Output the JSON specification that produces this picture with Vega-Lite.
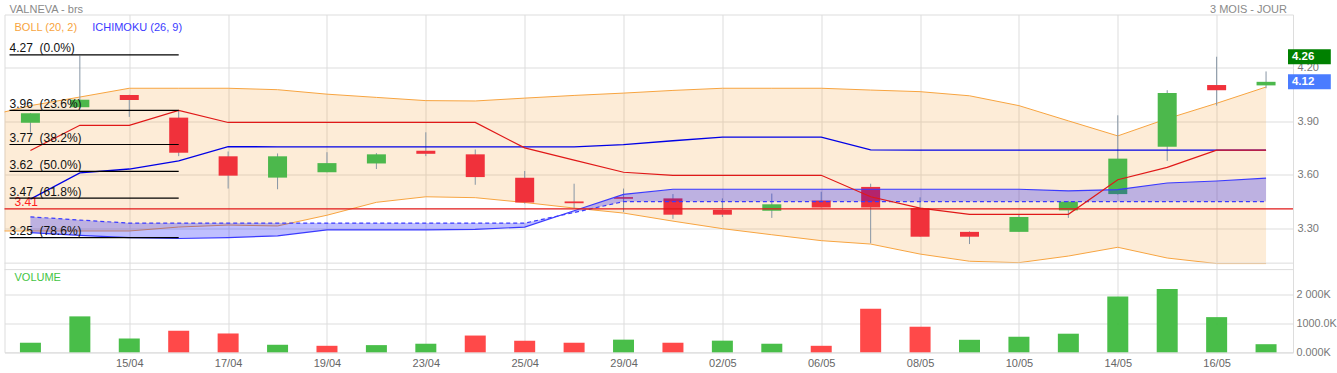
{
  "$schema": "https://vega.github.io/schema/vega-lite/v6.json",
  "width": 1337,
  "height": 373,
  "autosize": {"type": "fit", "contains": "padding"},
  "padding": {"left": 3.5, "top": 2.5, "right": 0, "bottom": 4.7},
  "background": "white",
  "config": {
    "font": "Liberation Sans",
    "view": {"stroke": "#dddddd"},
    "axis": {"gridColor": "#dddddd", "gridWidth": 1, "domain": false, "ticks": false, "tickSize": 0, "labelFont": "Liberation Sans", "labelFontSize": 11}
  },
  "datasets": {
    "bb": [
      {"i": -1, "U": 3.92, "L": 3.287},
      {"i": 0, "U": 3.987, "L": 3.287},
      {"i": 1, "U": 4.035, "L": 3.287},
      {"i": 2, "U": 4.084, "L": 3.287},
      {"i": 3, "U": 4.084, "L": 3.309},
      {"i": 4, "U": 4.084, "L": 3.32},
      {"i": 5, "U": 4.076, "L": 3.315},
      {"i": 6, "U": 4.051, "L": 3.375},
      {"i": 7, "U": 4.033, "L": 3.447},
      {"i": 8, "U": 4.015, "L": 3.478},
      {"i": 9, "U": 4.013, "L": 3.473},
      {"i": 10, "U": 4.029, "L": 3.446},
      {"i": 11, "U": 4.044, "L": 3.415},
      {"i": 12, "U": 4.057, "L": 3.387},
      {"i": 13, "U": 4.072, "L": 3.342},
      {"i": 14, "U": 4.084, "L": 3.30},
      {"i": 15, "U": 4.084, "L": 3.266},
      {"i": 16, "U": 4.084, "L": 3.233},
      {"i": 17, "U": 4.074, "L": 3.214},
      {"i": 18, "U": 4.065, "L": 3.158},
      {"i": 19, "U": 4.042, "L": 3.118},
      {"i": 20, "U": 3.987, "L": 3.11},
      {"i": 21, "U": 3.902, "L": 3.147},
      {"i": 22, "U": 3.818, "L": 3.196},
      {"i": 23, "U": 3.914, "L": 3.136},
      {"i": 24, "U": 4.0, "L": 3.105},
      {"i": 25, "U": 4.091, "L": 3.105}
    ],
    "candles": [
      {"i": 0, "date": "11/04", "O": 3.891, "H": 3.946, "Lo": 3.836, "C": 3.945, "dir": "up", "vol": 333000, "vdir": "up"},
      {"i": 1, "date": "12/04", "O": 3.978, "H": 4.266, "Lo": 3.976, "C": 4.02, "dir": "up", "vol": 1250000, "vdir": "up"},
      {"i": 2, "date": "15/04", "O": 4.046, "H": 4.048, "Lo": 3.924, "C": 4.018, "dir": "down", "vol": 476000, "vdir": "up"},
      {"i": 3, "date": "16/04", "O": 3.92, "H": 3.96, "Lo": 3.705, "C": 3.724, "dir": "down", "vol": 750000, "vdir": "down"},
      {"i": 4, "date": "17/04", "O": 3.704, "H": 3.731, "Lo": 3.524, "C": 3.596, "dir": "down", "vol": 655000, "vdir": "down"},
      {"i": 5, "date": "18/04", "O": 3.585, "H": 3.72, "Lo": 3.52, "C": 3.704, "dir": "up", "vol": 262000, "vdir": "up"},
      {"i": 6, "date": "19/04", "O": 3.615, "H": 3.727, "Lo": 3.615, "C": 3.666, "dir": "up", "vol": 226000, "vdir": "down"},
      {"i": 7, "date": "22/04", "O": 3.664, "H": 3.722, "Lo": 3.633, "C": 3.715, "dir": "up", "vol": 250000, "vdir": "up"},
      {"i": 8, "date": "23/04", "O": 3.735, "H": 3.838, "Lo": 3.705, "C": 3.718, "dir": "down", "vol": 298000, "vdir": "up"},
      {"i": 9, "date": "24/04", "O": 3.715, "H": 3.742, "Lo": 3.545, "C": 3.588, "dir": "down", "vol": 583000, "vdir": "down"},
      {"i": 10, "date": "25/04", "O": 3.584, "H": 3.622, "Lo": 3.44, "C": 3.446, "dir": "down", "vol": 405000, "vdir": "down"},
      {"i": 11, "date": "26/04", "O": 3.452, "H": 3.551, "Lo": 3.415, "C": 3.442, "dir": "down", "vol": 333000, "vdir": "down"},
      {"i": 12, "date": "29/04", "O": 3.476, "H": 3.524, "Lo": 3.393, "C": 3.467, "dir": "down", "vol": 440000, "vdir": "up"},
      {"i": 13, "date": "30/04", "O": 3.469, "H": 3.493, "Lo": 3.355, "C": 3.378, "dir": "down", "vol": 333000, "vdir": "down"},
      {"i": 14, "date": "02/05", "O": 3.405, "H": 3.469, "Lo": 3.365, "C": 3.378, "dir": "down", "vol": 405000, "vdir": "up"},
      {"i": 15, "date": "03/05", "O": 3.40, "H": 3.496, "Lo": 3.36, "C": 3.436, "dir": "up", "vol": 298000, "vdir": "up"},
      {"i": 16, "date": "06/05", "O": 3.457, "H": 3.506, "Lo": 3.418, "C": 3.418, "dir": "down", "vol": 226000, "vdir": "down"},
      {"i": 17, "date": "07/05", "O": 3.533, "H": 3.551, "Lo": 3.218, "C": 3.418, "dir": "down", "vol": 1512000, "vdir": "down"},
      {"i": 18, "date": "08/05", "O": 3.415, "H": 3.475, "Lo": 3.255, "C": 3.255, "dir": "down", "vol": 890000, "vdir": "down"},
      {"i": 19, "date": "09/05", "O": 3.282, "H": 3.285, "Lo": 3.214, "C": 3.255, "dir": "down", "vol": 435000, "vdir": "up"},
      {"i": 20, "date": "10/05", "O": 3.282, "H": 3.378, "Lo": 3.282, "C": 3.365, "dir": "up", "vol": 540000, "vdir": "up"},
      {"i": 21, "date": "13/05", "O": 3.402, "H": 3.455, "Lo": 3.36, "C": 3.451, "dir": "up", "vol": 647000, "vdir": "up"},
      {"i": 22, "date": "14/05", "O": 3.493, "H": 3.933, "Lo": 3.49, "C": 3.691, "dir": "up", "vol": 1940000, "vdir": "up"},
      {"i": 23, "date": "15/05", "O": 3.757, "H": 4.073, "Lo": 3.678, "C": 4.058, "dir": "up", "vol": 2200000, "vdir": "up"},
      {"i": 24, "date": "16/05", "O": 4.102, "H": 4.26, "Lo": 3.987, "C": 4.073, "dir": "down", "vol": 1224000, "vdir": "up"},
      {"i": 25, "date": "17/05", "O": 4.10, "H": 4.178, "Lo": 4.084, "C": 4.12, "dir": "up", "vol": 282000, "vdir": "up"}
    ],
    "ichi": [
      {"i": 0, "T": 3.736, "K": 3.465, "A": 3.366, "B": 3.278},
      {"i": 1, "T": 3.877, "K": 3.611, "A": 3.348, "B": 3.262},
      {"i": 2, "T": 3.877, "K": 3.633, "A": 3.331, "B": 3.25},
      {"i": 3, "T": 3.96, "K": 3.678, "A": 3.331, "B": 3.245},
      {"i": 4, "T": 3.893, "K": 3.758, "A": 3.331, "B": 3.25},
      {"i": 5, "T": 3.893, "K": 3.757, "A": 3.331, "B": 3.26},
      {"i": 6, "T": 3.893, "K": 3.757, "A": 3.331, "B": 3.293},
      {"i": 7, "T": 3.893, "K": 3.757, "A": 3.331, "B": 3.293},
      {"i": 8, "T": 3.893, "K": 3.757, "A": 3.331, "B": 3.293},
      {"i": 9, "T": 3.893, "K": 3.757, "A": 3.331, "B": 3.296},
      {"i": 10, "T": 3.751, "K": 3.757, "A": 3.331, "B": 3.309},
      {"i": 11, "T": 3.683, "K": 3.757, "A": 3.39, "B": 3.40},
      {"i": 12, "T": 3.615, "K": 3.769, "A": 3.451, "B": 3.491},
      {"i": 13, "T": 3.598, "K": 3.791, "A": 3.451, "B": 3.52},
      {"i": 14, "T": 3.598, "K": 3.811, "A": 3.451, "B": 3.52},
      {"i": 15, "T": 3.598, "K": 3.811, "A": 3.451, "B": 3.52},
      {"i": 16, "T": 3.598, "K": 3.811, "A": 3.451, "B": 3.52},
      {"i": 17, "T": 3.478, "K": 3.74, "A": 3.451, "B": 3.52},
      {"i": 18, "T": 3.415, "K": 3.738, "A": 3.451, "B": 3.52},
      {"i": 19, "T": 3.38, "K": 3.738, "A": 3.451, "B": 3.52},
      {"i": 20, "T": 3.38, "K": 3.738, "A": 3.451, "B": 3.52},
      {"i": 21, "T": 3.38, "K": 3.738, "A": 3.451, "B": 3.511},
      {"i": 22, "T": 3.573, "K": 3.738, "A": 3.451, "B": 3.518},
      {"i": 23, "T": 3.642, "K": 3.738, "A": 3.451, "B": 3.555},
      {"i": 24, "T": 3.738, "K": 3.738, "A": 3.451, "B": 3.566},
      {"i": 25, "T": 3.738, "K": 3.738, "A": 3.451, "B": 3.582}
    ],
    "fib": [
      {"level": 4.27, "label": "4.27 \u00a0(0.0%)"},
      {"level": 3.96, "label": "3.96 \u00a0(23.6%)"},
      {"level": 3.77, "label": "3.77 \u00a0(38.2%)"},
      {"level": 3.62, "label": "3.62 \u00a0(50.0%)"},
      {"level": 3.47, "label": "3.47 \u00a0(61.8%)"},
      {"level": 3.25, "label": "3.25 \u00a0(78.6%)"}
    ],
    "boxes": [
      {"kind": "high", "t": "4.26", "v": 4.26},
      {"kind": "last", "t": "4.12", "v": 4.12}
    ]
  },
  "resolve": {"scale": {"y": "independent"}, "axis": {"y": "independent"}},
  "layer": [
    {
      "layer": [
        {
          "data": {"name": "bb"},
          "mark": {"type": "area", "clip": true, "color": "#f7a440", "opacity": 0.21},
          "encoding": {
            "x": {"field": "i", "type": "quantitative", "title": null,
                  "scale": {"domain": [-0.4234, 25.444], "nice": false, "zero": false},
                  "axis": {"values": [2,4,6,8,10,12,14,16,18,20,22,24], "grid": true, "ticks": false, "domain": false, "title": null,
                           "labelExpr": "['11/04','12/04','15/04','16/04','17/04','18/04','19/04','22/04','23/04','24/04','25/04','26/04','29/04','30/04','02/05','03/05','06/05','07/05','08/05','09/05','10/05','13/05','14/05','15/05','16/05','17/05'][datum.value]",
                           "labelColor": "#666666", "labelFontSize": 11, "labelPadding": 5, "labelDx": -3}},
            "y": {"field": "U", "type": "quantitative", "title": null,
                  "scale": {"domain": [2.6374, 4.468], "nice": false, "zero": false},
                  "axis": {"orient": "right", "values": [3.3, 3.6, 3.9, 4.2], "format": ".2f", "grid": true, "labelColor": "#777777", "labelPadding": 4, "labelFontSize": 11, "title": null, "minExtent": 41, "maxExtent": 41}},
            "y2": {"field": "L"}
          }
        },
        {
          "data": {"name": "bb"},
          "mark": {"type": "line", "clip": true, "color": "#f7a440", "strokeWidth": 1},
          "encoding": {
            "x": {"field": "i", "type": "quantitative", "title": null},
            "y": {"field": "U", "type": "quantitative", "title": null}
          }
        },
        {
          "data": {"name": "bb"},
          "mark": {"type": "line", "clip": true, "color": "#f7a440", "strokeWidth": 1},
          "encoding": {
            "x": {"field": "i", "type": "quantitative", "title": null},
            "y": {"field": "L", "type": "quantitative", "title": null}
          }
        },
        {
          "data": {"name": "candles"},
          "mark": {"type": "rule", "color": "#8796a5", "strokeWidth": 1},
          "encoding": {
            "x": {"field": "i", "type": "quantitative", "title": null},
            "y": {"field": "Lo", "type": "quantitative", "title": null},
            "y2": {"field": "H"}
          }
        },
        {
          "data": {"name": "candles"},
          "mark": {"type": "bar", "width": 19},
          "encoding": {
            "x": {"field": "i", "type": "quantitative", "title": null},
            "y": {"field": "O", "type": "quantitative", "title": null},
            "y2": {"field": "C"},
            "color": {"field": "dir", "type": "nominal", "legend": null,
                      "scale": {"domain": ["up", "down"], "range": ["#4cb84c", "#f0313b"]}}
          }
        },
        {
          "data": {"name": "ichi"},
          "mark": {"type": "area", "color": "#0000ff", "opacity": 0.25},
          "encoding": {
            "x": {"field": "i", "type": "quantitative", "title": null},
            "y": {"field": "A", "type": "quantitative", "title": null},
            "y2": {"field": "B"}
          }
        },
        {
          "data": {"name": "ichi"},
          "mark": {"type": "line", "color": "#3a3aff", "strokeWidth": 1.2},
          "encoding": {
            "x": {"field": "i", "type": "quantitative", "title": null},
            "y": {"field": "B", "type": "quantitative", "title": null}
          }
        },
        {
          "data": {"name": "ichi"},
          "mark": {"type": "line", "color": "#3a3aff", "strokeWidth": 1.2, "strokeDash": [4, 3]},
          "encoding": {
            "x": {"field": "i", "type": "quantitative", "title": null},
            "y": {"field": "A", "type": "quantitative", "title": null}
          }
        },
        {
          "data": {"name": "ichi"},
          "mark": {"type": "line", "color": "#0000e6", "strokeWidth": 1.3},
          "encoding": {
            "x": {"field": "i", "type": "quantitative", "title": null},
            "y": {"field": "K", "type": "quantitative", "title": null}
          }
        },
        {
          "data": {"name": "ichi"},
          "mark": {"type": "line", "color": "#e01818", "strokeWidth": 1.2},
          "encoding": {
            "x": {"field": "i", "type": "quantitative", "title": null},
            "y": {"field": "T", "type": "quantitative", "title": null}
          }
        },
        {
          "data": {"values": [{"t": "3.41", "v": 3.41}]},
          "mark": {"type": "rule", "color": "#e01818", "strokeWidth": 1.2},
          "encoding": {
            "y": {"field": "v", "type": "quantitative", "title": null}
          }
        },
        {
          "data": {"values": [{"t": "3.41", "v": 3.41}]},
          "mark": {"type": "text", "color": "#ff2020", "fontSize": 12, "align": "left", "baseline": "middle", "dy": -6.5},
          "encoding": {
            "x": {"datum": -0.3226},
            "y": {"field": "v", "type": "quantitative", "title": null},
            "text": {"field": "t"}
          }
        },
        {
          "data": {"values": [{"edge": 3.1074}]},
          "mark": {"type": "rule", "color": "#dddddd", "strokeWidth": 1},
          "encoding": {
            "y": {"field": "edge", "type": "quantitative", "title": null}
          }
        },
        {
          "data": {"name": "fib"},
          "mark": {"type": "rule", "color": "#000000", "strokeWidth": 1.2},
          "encoding": {
            "x": {"datum": -0.4234},
            "x2": {"datum": 3.0},
            "y": {"field": "level", "type": "quantitative", "title": null}
          }
        },
        {
          "data": {"name": "fib"},
          "mark": {"type": "text", "color": "#111111", "fontSize": 12, "align": "left", "baseline": "alphabetic", "dy": -2.5},
          "encoding": {
            "x": {"datum": -0.4234},
            "y": {"field": "level", "type": "quantitative", "title": null},
            "text": {"field": "label"}
          }
        },
        {
          "data": {"values": [{"t": "VALNEVA - brs"}]},
          "mark": {"type": "text", "color": "#8a8a8a", "fontSize": 11, "align": "left", "baseline": "middle"},
          "encoding": {
            "x": {"datum": -0.4234},
            "y": {"datum": 4.5188},
            "text": {"field": "t"}
          }
        },
        {
          "data": {"values": [{"t": "3 MOIS - JOUR"}]},
          "mark": {"type": "text", "color": "#8a8a8a", "fontSize": 11, "align": "right", "baseline": "middle"},
          "encoding": {
            "x": {"datum": 25.424},
            "y": {"datum": 4.5188},
            "text": {"field": "t"}
          }
        },
        {
          "data": {"values": [{"t": "BOLL (20, 2)"}]},
          "mark": {"type": "text", "color": "#f7a440", "fontSize": 11, "align": "left", "baseline": "middle"},
          "encoding": {
            "x": {"datum": -0.3226},
            "y": {"datum": 4.4232},
            "text": {"field": "t"}
          }
        },
        {
          "data": {"values": [{"t": "ICHIMOKU (26, 9)"}]},
          "mark": {"type": "text", "color": "#3b3bff", "fontSize": 11, "align": "left", "baseline": "middle"},
          "encoding": {
            "x": {"datum": 1.25},
            "y": {"datum": 4.4232},
            "text": {"field": "t"}
          }
        },
        {
          "data": {"name": "boxes"},
          "transform": [{"filter": "datum.kind == 'high'"}],
          "mark": {"type": "bar", "height": 15, "color": "#008000"},
          "encoding": {
            "x": {"datum": 25.444},
            "x2": {"datum": 26.31},
            "y": {"field": "v", "type": "quantitative", "title": null}
          }
        },
        {
          "data": {"name": "boxes"},
          "transform": [{"filter": "datum.kind == 'last'"}],
          "mark": {"type": "bar", "height": 15, "color": "#4a7cff"},
          "encoding": {
            "x": {"datum": 25.444},
            "x2": {"datum": 26.31},
            "y": {"field": "v", "type": "quantitative", "title": null}
          }
        },
        {
          "data": {"name": "boxes"},
          "mark": {"type": "text", "color": "#ffffff", "fontSize": 11.5, "fontWeight": "bold", "align": "left", "baseline": "middle"},
          "encoding": {
            "x": {"datum": 25.524},
            "y": {"field": "v", "type": "quantitative", "title": null},
            "text": {"field": "t"}
          }
        }
      ]
    },
    {
      "layer": [
        {
          "data": {"name": "candles"},
          "mark": {"type": "bar", "width": 21, "opacity": 0.95},
          "encoding": {
            "x": {"field": "i", "type": "quantitative", "title": null},
            "y": {"field": "vol", "type": "quantitative", "title": null,
                  "scale": {"domain": [0, 11754000], "nice": false, "zero": true},
                  "axis": {"orient": "right", "values": [0, 1000000, 2000000], "grid": true, "title": null,
                           "labelExpr": "datum.value == 0 ? '0.000K' : (datum.value == 1000000 ? '1000.0K' : '2 000K')",
                           "labelColor": "#777777", "labelFontSize": 10.8, "labelPadding": 3, "minExtent": 41, "maxExtent": 41}},
            "fill": {"field": "vdir", "type": "nominal", "legend": null,
                     "scale": {"domain": ["up", "down"], "range": ["#3fbb3f", "#ff3f3f"]}}
          }
        },
        {
          "data": {"values": [{"edge": 2877000}]},
          "mark": {"type": "rule", "color": "#dddddd", "strokeWidth": 1},
          "encoding": {
            "y": {"field": "edge", "type": "quantitative", "title": null}
          }
        },
        {
          "data": {"values": [{"t": "VOLUME"}]},
          "mark": {"type": "text", "color": "#44c444", "fontSize": 11, "align": "left", "baseline": "middle"},
          "encoding": {
            "x": {"datum": -0.3226},
            "y": {"datum": 2572000},
            "text": {"field": "t"}
          }
        }
      ]
    }
  ]
}
